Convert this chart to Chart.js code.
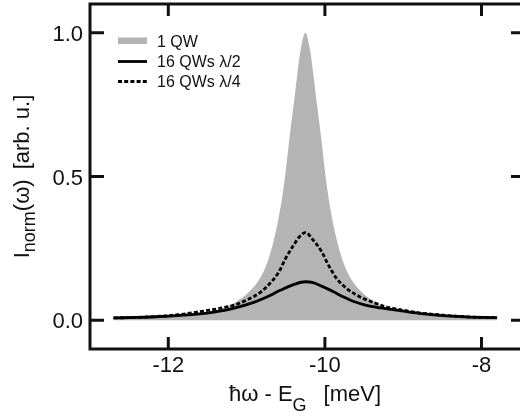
<!DOCTYPE html>
<html>
<head>
<meta charset="utf-8">
<script src="https://cdn.jsdelivr.net/npm/chart.js@4.4.1/dist/chart.umd.min.js"></script>
<style>
  html, body { margin: 0; padding: 0; background: #fff; overflow: hidden; }
  #spectrum { display: block; }
</style>
</head>
<body>
<canvas id="spectrum" width="528" height="419"></canvas>
<script>
// hbar*omega - E_G in meV, normalised emission intensity
const energySingle = [-12.70, -12.45, -12.20, -11.95, -11.75, -11.55, -11.43, -11.25, -11.08, -10.92,
  -10.80, -10.73, -10.67, -10.61, -10.55, -10.50, -10.45, -10.39, -10.35, -10.31, -10.25,
  -10.19, -10.15, -10.11, -10.05, -10.00, -9.95, -9.89, -9.83, -9.77, -9.70,
  -9.58, -9.42, -9.25, -9.07, -8.95, -8.75, -8.55, -8.30, -8.05, -7.80];
const intensitySingle = [0.008, 0.010, 0.012, 0.015, 0.019, 0.025, 0.032, 0.048, 0.074, 0.112,
  0.16, 0.205, 0.26, 0.33, 0.42, 0.52, 0.64, 0.77, 0.86, 0.94, 1.0,
  0.94, 0.86, 0.77, 0.64, 0.52, 0.42, 0.33, 0.26, 0.205, 0.16,
  0.112, 0.074, 0.048, 0.032, 0.025, 0.019, 0.015, 0.012, 0.010, 0.008];

const energyHalf = [-12.70, -12.40, -12.10, -11.80, -11.60, -11.42, -11.17, -10.91, -10.75, -10.57,
  -10.40, -10.25, -10.15, -10.02, -9.89, -9.76, -9.64, -9.47, -9.29, -9.06, -8.80, -8.50, -8.20, -7.80];
const intensityHalf = [0.008, 0.010, 0.013, 0.018, 0.022, 0.028, 0.041, 0.062, 0.080, 0.104,
  0.124, 0.134, 0.131, 0.116, 0.099, 0.081, 0.066, 0.052, 0.043, 0.034, 0.024, 0.016, 0.012, 0.009];

const energyQuarter = [-12.70, -12.40, -12.10, -11.85, -11.62, -11.45, -11.335, -11.17, -11.00, -10.82,
  -10.70, -10.59, -10.50, -10.40, -10.32, -10.25, -10.15, -10.04, -9.955, -9.85,
  -9.72, -9.55, -9.38, -9.21, -9.06, -8.80, -8.50, -8.20, -7.80];
const intensityQuarter = [0.008, 0.010, 0.014, 0.020, 0.029, 0.036, 0.042, 0.052, 0.070, 0.098,
  0.129, 0.167, 0.216, 0.261, 0.292, 0.305, 0.279, 0.238, 0.192, 0.145,
  0.110, 0.081, 0.062, 0.046, 0.038, 0.026, 0.018, 0.012, 0.009];

const seriesLabels = ['1 QW', '16 QWs λ/2', '16 QWs λ/4'];
const xTickValues = [-12, -10, -8];
const xTickLabels = ['-12', '-10', '-8'];
const yTickValues = [0, 0.5, 1.0];
const yTickLabels = ['0.0', '0.5', '1.0'];

const ink = '#111';
const shade = '#b4b4b4';
const family = "'Liberation Sans', Arial, Helvetica, sans-serif";

function toPoints(xs, ys) {
  return xs.map((x, i) => ({ x: x, y: ys[i] }));
}

// draws a run of text pieces (with subscripts) starting at x, y
function drawRun(ctx, parts, x, y) {
  parts.forEach(p => {
    ctx.font = p.size + 'px ' + family;
    ctx.fillText(p.text, x, y + (p.dy || 0));
    x += ctx.measureText(p.text).width + (p.gap || 0);
  });
}
function runWidth(ctx, parts) {
  let w = 0;
  parts.forEach(p => {
    ctx.font = p.size + 'px ' + family;
    w += ctx.measureText(p.text).width + (p.gap || 0);
  });
  return w;
}

const frameAndLabels = {
  id: 'frameAndLabels',
  afterDatasetsDraw(chart) {
    const { ctx, chartArea: a, scales: { x, y } } = chart;
    ctx.save();

    // box and inward ticks on all four sides
    ctx.strokeStyle = ink;
    ctx.lineWidth = 3;
    ctx.strokeRect(a.left, a.top, a.right - a.left, a.bottom - a.top);
    ctx.beginPath();
    xTickValues.forEach(v => {
      const px = x.getPixelForValue(v);
      ctx.moveTo(px, a.bottom); ctx.lineTo(px, a.bottom - 12);
      ctx.moveTo(px, a.top); ctx.lineTo(px, a.top + 12);
    });
    yTickValues.forEach(v => {
      const py = y.getPixelForValue(v);
      ctx.moveTo(a.left, py); ctx.lineTo(a.left + 14, py);
      ctx.moveTo(a.right, py); ctx.lineTo(a.right - 12, py);
    });
    ctx.stroke();

    // tick labels
    ctx.fillStyle = ink;
    ctx.font = '22px ' + family;
    ctx.textAlign = 'center';
    ctx.textBaseline = 'alphabetic';
    xTickValues.forEach((v, i) => {
      ctx.fillText(xTickLabels[i], x.getPixelForValue(v), 372);
    });
    ctx.textAlign = 'right';
    yTickValues.forEach((v, i) => {
      ctx.fillText(yTickLabels[i], 83, y.getPixelForValue(v) + 8);
    });

    // x axis title
    ctx.textAlign = 'left';
    const xTitle = [
      { text: 'ħω - E', size: 22 },
      { text: 'G', size: 18, dy: 10, gap: 17 },
      { text: '[meV]', size: 22 }
    ];
    drawRun(ctx, xTitle, (a.left + 520) / 2 - runWidth(ctx, xTitle) / 2, 401);

    // y axis title, rotated
    const yTitle = [
      { text: 'I', size: 22 },
      { text: 'norm', size: 18, dy: 6 },
      { text: '(ω)', size: 22, gap: 10 },
      { text: '[arb. u.]', size: 22 }
    ];
    ctx.save();
    ctx.translate(29, (a.top + a.bottom) / 2);
    ctx.rotate(-Math.PI / 2);
    drawRun(ctx, yTitle, -runWidth(ctx, yTitle) / 2, 0);
    ctx.restore();

    // legend
    const lx = 118, lw = 29, tx = 157;
    const rows = [41, 61.5, 81.5];
    ctx.fillStyle = shade;
    ctx.fillRect(lx, rows[0] - 3.5, lw, 6.5);
    ctx.strokeStyle = '#000';
    ctx.lineWidth = 2.8;
    ctx.beginPath();
    ctx.moveTo(lx, rows[1]); ctx.lineTo(lx + lw, rows[1]);
    ctx.stroke();
    ctx.setLineDash([4, 2.2]);
    ctx.beginPath();
    ctx.moveTo(lx, rows[2]); ctx.lineTo(lx + lw, rows[2]);
    ctx.stroke();
    ctx.setLineDash([]);
    ctx.fillStyle = ink;
    ctx.font = '16px ' + family;
    ctx.textAlign = 'left';
    seriesLabels.forEach((s, i) => ctx.fillText(s, tx, rows[i] + 5.7));

    ctx.restore();
  }
};

new Chart(document.getElementById('spectrum').getContext('2d'), {
  type: 'line',
  data: {
    datasets: [{
      label: seriesLabels[0],
      data: toPoints(energySingle, intensitySingle),
      backgroundColor: shade,
      borderWidth: 0,
      fill: 'origin',
      cubicInterpolationMode: 'monotone',
      order: 3
    }, {
      label: seriesLabels[1],
      data: toPoints(energyHalf, intensityHalf),
      borderColor: '#000',
      borderWidth: 2.8,
      fill: false,
      cubicInterpolationMode: 'monotone',
      order: 1
    }, {
      label: seriesLabels[2],
      data: toPoints(energyQuarter, intensityQuarter),
      borderColor: '#000',
      borderWidth: 2.8,
      borderDash: [4, 2.2],
      fill: false,
      cubicInterpolationMode: 'monotone',
      order: 2
    }]
  },
  options: {
    responsive: false,
    animation: false,
    layout: { padding: { left: 90, top: 4, right: 5, bottom: 70 } },
    elements: { point: { radius: 0 } },
    scales: {
      x: { type: 'linear', min: -13, max: -7.47, display: false },
      y: { type: 'linear', min: -0.1, max: 1.1, display: false }
    },
    plugins: {
      legend: { display: false },
      tooltip: { enabled: false }
    }
  },
  plugins: [frameAndLabels]
});
</script>
</body>
</html>
